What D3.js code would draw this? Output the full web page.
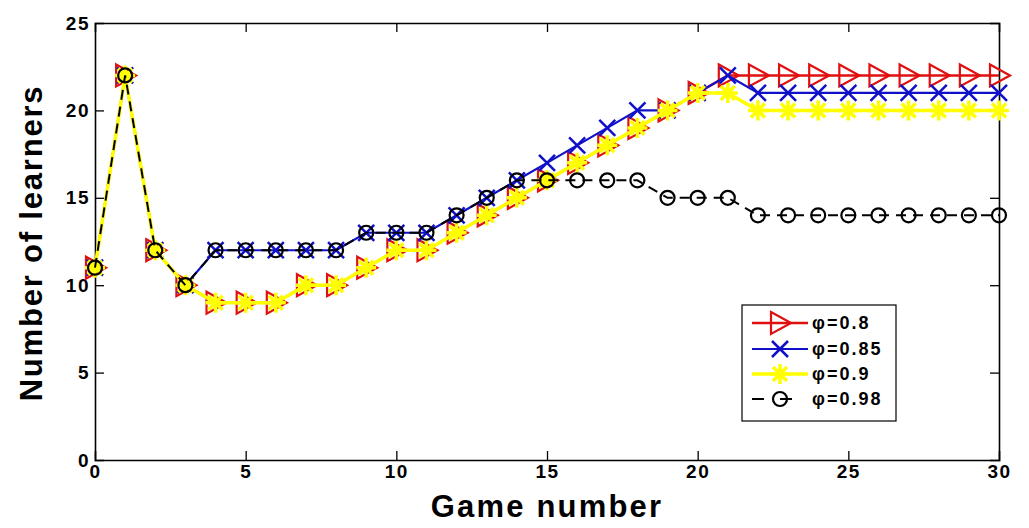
<!DOCTYPE html>
<html>
<head>
<meta charset="utf-8">
<script src="https://cdn.jsdelivr.net/npm/d3@7"></script>
<style>
html,body{margin:0;padding:0;background:#fff;}
svg{display:block;}
text{font-family:"Liberation Sans",Arial,sans-serif;font-weight:bold;fill:#000;}
</style>
</head>
<body>
<svg id="chart" width="1029" height="528"></svg>
<script>
// ---- data ----
const games = d3.range(0, 31);
const phi080 = [11,22,12,10,9,9,9,10,10,11,12,12,13,14,15,16,17,18,19,20,21,22,22,22,22,22,22,22,22,22,22];
const phi085 = [11,22,12,10,12,12,12,12,12,13,13,13,14,15,16,17,18,19,20,20,21,22,21,21,21,21,21,21,21,21,21];
const phi090 = [11,22,12,10,9,9,9,10,10,11,12,12,13,14,15,16,17,18,19,20,21,21,20,20,20,20,20,20,20,20,20];
const phi098 = [11,22,12,10,12,12,12,12,12,13,13,13,14,15,16,16,16,16,16,15,15,15,14,14,14,14,14,14,14,14,14];
const xTicks = [0,5,10,15,20,25,30];
const yTicks = [0,5,10,15,20,25];
const legendLabels = ["φ=0.8","φ=0.85","φ=0.9","φ=0.98"];

const svg = d3.select("#chart");
const L = 95, R = 999, T = 23, B = 460;
const x = d3.scaleLinear().domain([0,30]).range([L,R]);
const y = d3.scaleLinear().domain([0,25]).range([B,T]);

// axes box
const tickLen = 9;
const gx = svg.append("g").attr("transform",`translate(0,${B})`)
  .call(d3.axisBottom(x).tickValues(xTicks).tickSize(-tickLen).tickPadding(14).tickFormat(d3.format("d")));
const gxt = svg.append("g").attr("transform",`translate(0,${T})`)
  .call(d3.axisTop(x).tickValues(xTicks).tickSize(-tickLen).tickFormat(""));
const gy = svg.append("g").attr("transform",`translate(${L},0)`)
  .call(d3.axisLeft(y).tickValues(yTicks).tickSize(-tickLen).tickPadding(7).tickFormat(d3.format("d")));
const gyr = svg.append("g").attr("transform",`translate(${R},0)`)
  .call(d3.axisRight(y).tickValues(yTicks).tickSize(-tickLen).tickFormat(""));
[gx,gxt,gy,gyr].forEach(g=>{
  g.select(".domain").attr("stroke","#000").attr("stroke-width",1.6);
  g.selectAll(".tick line").attr("stroke","#000").attr("stroke-width",1.3);
  g.selectAll(".tick text").style("font-size","19px").style("letter-spacing","1.5px").attr("fill","#000");
});
// remove end ticks that duplicate box corners
[gx,gxt].forEach(g=>g.selectAll(".tick").filter(d=>d===0||d===30).select("line").remove());
[gy,gyr].forEach(g=>g.selectAll(".tick").filter(d=>d===0||d===25).select("line").remove());
gx.selectAll(".tick text").attr("dy","0.2em");
gy.selectAll(".tick text").attr("dx","2px");

// axis titles
svg.append("text").attr("x",547).attr("y",517).attr("text-anchor","middle")
  .style("font-size","31px").style("letter-spacing","2.2px").text("Game number");
svg.append("text").attr("transform","translate(42,243) rotate(-90)").attr("text-anchor","middle")
  .style("font-size","31px").style("letter-spacing","1.8px").text("Number of learners");

// marker generators
function triPath(cx,cy){ return `M${cx-9},${cy-11}L${cx+11},${cy}L${cx-9},${cy+11}Z`; }
function xPath(cx,cy){ const s=8; return `M${cx-s},${cy-s}L${cx+s},${cy+s}M${cx-s},${cy+s}L${cx+s},${cy-s}`; }
function starPath(cx,cy){ const s=10, d=7; return `M${cx-s},${cy}L${cx+s},${cy}M${cx},${cy-s}L${cx},${cy+s}M${cx-d},${cy-d}L${cx+d},${cy+d}M${cx-d},${cy+d}L${cx+d},${cy-d}`; }

const line = d3.line().x((d,i)=>x(games[i])).y(d=>y(d));

const series = [
  {vals:phi080, color:"#e01010", lw:2.5, dash:null, marker:"tri"},
  {vals:phi085, color:"#1010c8", lw:2.2, dash:null, marker:"x"},
  {vals:phi090, color:"#ffff00", lw:3.5, dash:null, marker:"star"},
  {vals:phi098, color:"#000000", lw:2, dash:"10,7", marker:"circle"}
];

function drawMarker(g, s, cx, cy){
  if(s.marker==="tri") g.append("path").attr("d",triPath(cx,cy)).attr("fill","none").attr("stroke",s.color).attr("stroke-width",2.2);
  else if(s.marker==="x") g.append("path").attr("d",xPath(cx,cy)).attr("fill","none").attr("stroke",s.color).attr("stroke-width",2.5);
  else if(s.marker==="star") g.append("path").attr("d",starPath(cx,cy)).attr("fill","none").attr("stroke",s.color).attr("stroke-width",3.5);
  else g.append("circle").attr("cx",cx).attr("cy",cy).attr("r",7).attr("fill","none").attr("stroke",s.color).attr("stroke-width",2.2);
}

series.forEach(s=>{
  const g = svg.append("g");
  g.append("path").datum(s.vals).attr("d",line).attr("fill","none")
    .attr("stroke",s.color).attr("stroke-width",s.lw).attr("stroke-dasharray",s.dash);
  s.vals.forEach((v,i)=>drawMarker(g,s,x(games[i]),y(v)));
});

// legend
const lg = svg.append("g");
lg.append("rect").attr("x",742).attr("y",305).attr("width",154).attr("height",116)
  .attr("fill","#fff").attr("stroke","#000").attr("stroke-width",1.2);
const rowY = [323,349,374,399];
series.forEach((s,i)=>{
  const yy = rowY[i];
  lg.append("line").attr("x1",752).attr("x2",808).attr("y1",yy).attr("y2",yy)
    .attr("stroke",s.color).attr("stroke-width",s.lw).attr("stroke-dasharray",s.dash ? "12,16" : null);
  drawMarker(lg,s,780,yy);
  lg.append("text").attr("x",812).attr("y",yy+6).style("font-size","18px").style("letter-spacing","2px").text(legendLabels[i]);
});
</script>
</body>
</html>
